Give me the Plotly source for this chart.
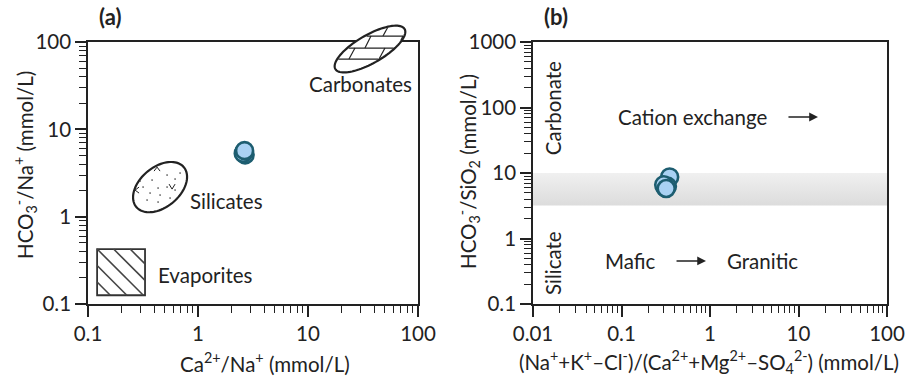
import numpy as np
import plotly.graph_objects as go

# ---- data -------------------------------------------------------------
# (a) Gibbs-type ratio plot
ca_na = [2.62, 2.68, 2.58, 2.65]
hco3_na = [5.5, 5.1, 5.3, 5.7]

# (b) cation-exchange / weathering plot
exch_ratio = [0.35, 0.31, 0.33, 0.30, 0.32]
hco3_sio2 = [8.7, 6.0, 6.3, 6.6, 5.8]

# transition band between silicate and carbonate weathering
band_lo, band_hi = 3.2, 10.0

a_ticks = [0.1, 1, 10, 100]
a_ticktext = ["0.1", "1", "10", "100"]
b_xticks = [0.01, 0.1, 1, 10, 100]
b_xticktext = ["0.01", "0.1", "1", "10", "100"]
b_yticks = [0.1, 1, 10, 100, 1000]
b_yticktext = ["0.1", "1", "10", "100", "1000"]

# end-member fields of panel (a) (centres in data units)
carb_center = (36.6, 83.0)
sil_center = (0.452, 2.18)
evap_box = (0.121, 0.33, 0.126, 0.426)

# ---- layout geometry ----------------------------------------------------
W, H = 916, 378
ML, MR, MT, MB = 88, 29, 42, 74
PW, PH = W - ML - MR, H - MT - MB
A_DOM = [0.0, 330 / PW]
B_DOM = [445 / PW, 1.0]
A_XR, A_YR = [-1, 2], [-1, 2]
B_XR, B_YR = [-2, 2], [-1, 3]

INK = "#222222"
FONT = "Lato, 'Open Sans', sans-serif"
FSIZE = 20.5
FILL = "#a9d1f3"
EDGE = "#1d5d70"


def a_to_px(x, y):
    fx = (np.log10(x) - A_XR[0]) / (A_XR[1] - A_XR[0])
    fy = (np.log10(y) - A_YR[0]) / (A_YR[1] - A_YR[0])
    px = ML + (A_DOM[0] + fx * (A_DOM[1] - A_DOM[0])) * PW
    py = MT + (1 - fy) * PH
    return px, py


def px_to_paper(px, py):
    return (px - ML) / PW, 1 - (py - MT) / PH


def path_from_px(pts, close=True):
    s = ""
    for i, (px, py) in enumerate(pts):
        x, y = px_to_paper(px, py)
        s += ("M" if i == 0 else "L") + f"{x:.5f},{y:.5f} "
    return s + ("Z" if close else "")


def ellipse_pts(cx, cy, a, b, ang, n=90):
    th = np.radians(ang)
    t = np.linspace(0, 2 * np.pi, n, endpoint=False)
    u, v = a * np.cos(t), b * np.sin(t)
    dx = u * np.cos(th) - v * np.sin(th)
    dy = -(u * np.sin(th) + v * np.cos(th))
    return list(zip(cx + dx, cy + dy))


def inside(dx, dy, a, b, ang):
    th = np.radians(ang)
    u = dx * np.cos(th) - dy * np.sin(th)
    v = -dx * np.sin(th) - dy * np.cos(th)
    return (u / a) ** 2 + (v / b) ** 2 <= 1


shapes = []


def add_path(pts, close=True, fill=None, width=2.0, color=INK):
    shapes.append(dict(type="path", xref="paper", yref="paper", layer="above",
                       path=path_from_px(pts, close),
                       fillcolor=fill if fill else "rgba(0,0,0,0)",
                       line=dict(color=color, width=width)))


# carbonate field with brick texture
CA, CB, CANG = 40, 14, 30
ccx, ccy = a_to_px(*carb_center)
add_path(ellipse_pts(ccx, ccy, CA, CB, CANG), fill="white", width=2.2)
xs = np.linspace(-50, 50, 1001)
rows = [-13, -1, 10]
for dy in rows:
    m = inside(xs, dy, CA - 1, CB - 1, CANG)
    if m.any():
        add_path([(ccx + xs[m].min(), ccy + dy), (ccx + xs[m].max(), ccy + dy)],
                 close=False, width=1.2)
bricks = [(-24, -13, [16]), (-13, -1, [-2, 30]), (-1, 10, [-18, 12])]
for top, bot, offs in bricks:
    for o in offs:
        (x0, y0), (x1, y1) = (o + 3, top), (o - 3, bot)
        tt = np.linspace(0, 1, 200)
        sx = x0 + (x1 - x0) * tt
        sy = y0 + (y1 - y0) * tt
        mm = inside(sx, sy, CA - 1, CB - 1, CANG)
        if mm.sum() > 2:
            add_path([(ccx + sx[mm][0], ccy + sy[mm][0]),
                      (ccx + sx[mm][-1], ccy + sy[mm][-1])], close=False, width=1.2)

# silicate field with speckles
scx, scy = a_to_px(*sil_center)
add_path(ellipse_pts(scx, scy, 31, 20, 40), fill="white", width=2.2)
speckles = [(-8, -7), (7, -12), (15, -8), (-17, 0), (-2, 1), (7, 0), (15, 3),
            (-10, 6), (0, 8), (-13, 13), (-2, 15), (10, 11), (-20, -6), (20, -14)]
for dx, dy in speckles:
    x0, y0 = px_to_paper(scx + dx - 0.8, scy + dy + 0.8)
    x1, y1 = px_to_paper(scx + dx + 0.8, scy + dy - 0.8)
    shapes.append(dict(type="circle", xref="paper", yref="paper", layer="above",
                       x0=x0, y0=y0, x1=x1, y1=y1, fillcolor="#333",
                       line=dict(width=0)))
ticks_v = [[(9, -3), (12, 2), (15, -3)], [(-6, -16), (-3, -20), (0, -16)],
           [(-21, 0), (-25, 3), (-21, 6)]]
for tk in ticks_v:
    add_path([(scx + dx, scy + dy) for dx, dy in tk], close=False, width=1.0)

# evaporite field with diagonal hatching
ex0, ey0 = a_to_px(evap_box[0], evap_box[3])
ex1, ey1 = a_to_px(evap_box[1], evap_box[2])
add_path([(ex0, ey0), (ex1, ey0), (ex1, ey1), (ex0, ey1)], fill="white", width=1.8,
         color="#333")
bw, bh = ex1 - ex0, ey1 - ey0
for c in [-33, -16.5, 0, 16.5, 33]:
    tt = np.linspace(-60, 60, 2401)
    hx, hy = c + tt, tt
    mm = (hx >= 0) & (hx <= bw) & (hy >= 0) & (hy <= bh)
    if mm.sum() > 2:
        add_path([(ex0 + hx[mm][0], ey0 + hy[mm][0]),
                  (ex0 + hx[mm][-1], ey0 + hy[mm][-1])], close=False, width=1.6,
                 color="#444")

# ---- traces --------------------------------------------------------------
fig = go.Figure()

fig.add_trace(go.Scatter(
    x=[b_xticks[0], b_xticks[-1], b_xticks[-1], b_xticks[0], b_xticks[0]],
    y=[band_lo, band_lo, band_hi, band_hi, band_lo],
    xaxis="x2", yaxis="y2", mode="lines", line=dict(width=0),
    fill="toself",
    fillgradient=dict(type="vertical",
                      colorscale=[[0, "#dcdcdc"], [1, "#f0f0f0"]]),
    hoverinfo="skip", showlegend=False))

marker = dict(size=17, color=FILL, line=dict(color=EDGE, width=2.6))
fig.add_trace(go.Scatter(x=ca_na, y=hco3_na, mode="markers", marker=marker,
                         xaxis="x", yaxis="y", showlegend=False))
fig.add_trace(go.Scatter(x=exch_ratio, y=hco3_sio2, mode="markers", marker=marker,
                         xaxis="x2", yaxis="y2", showlegend=False))


def axis(dom, rng, tv, tt, anchor):
    return dict(type="log", domain=dom, range=rng, anchor=anchor,
                tickmode="array", tickvals=tv, ticktext=tt,
                ticks="outside", ticklen=11, tickwidth=1.5, tickcolor=INK,
                showline=True, linecolor=INK, linewidth=1.6, mirror=True,
                showgrid=False, zeroline=False,
                tickfont=dict(family=FONT, size=FSIZE, color=INK),
                minor=dict(ticks="outside", ticklen=7, tickwidth=1.3,
                           tickcolor=INK, tickmode="linear", tick0=0, dtick="D1",
                           showgrid=False))


txt = dict(family=FONT, size=FSIZE, color=INK)
ann = []


def label(text, x, y, xref, yref, **kw):
    d = dict(text=text, x=x, y=y, xref=xref, yref=yref, showarrow=False,
             xanchor="center", yanchor="middle", font=kw.pop("font", txt))
    d.update(kw)
    ann.append(d)


# panel tags
tag_font = dict(family=FONT, size=22, color=INK)
label("<b>(a)</b>", *px_to_paper(110, 17), "paper", "paper", font=tag_font)
label("<b>(b)</b>", *px_to_paper(556, 17), "paper", "paper", font=tag_font)

# axis titles
label("Ca<sup>2+</sup>/Na<sup>+</sup> (mmol/L)", *px_to_paper(265, 362), "paper", "paper")
label("HCO<sub>3</sub><sup>-</sup>/Na<sup>+</sup> (mmol/L)", *px_to_paper(25, 165),
      "paper", "paper", textangle=-90)
label("(Na<sup>+</sup>+K<sup>+</sup>\u2013Cl<sup>-</sup>)/(Ca<sup>2+</sup>+Mg<sup>2+</sup>"
      "\u2013SO<sub>4</sub><sup>2-</sup>) (mmol/L)", *px_to_paper(709, 362), "paper", "paper")
label("HCO<sub>3</sub><sup>-</sup>/SiO<sub>2</sub> (mmol/L)", *px_to_paper(468, 172),
      "paper", "paper", textangle=-90)

# field names in panel (a) (log10 positions on log axes)
label("Carbonates", 1.473, 1.519, "x", "y")
label("Silicates", 0.2545, 0.179, "x", "y")
label("Evaporites", 0.0636, -0.669, "x", "y")

# panel (b) annotations
label("Carbonate", -1.774, 1.99, "x2", "y2", textangle=-90)
label("Silicate", -1.774, -0.374, "x2", "y2", textangle=-90)
label("Cation exchange", -0.203, 1.855, "x2", "y2")
label("Mafic", -0.904, -0.343, "x2", "y2")
label("Granitic", 0.588, -0.343, "x2", "y2")
for tip, yy in ((1.22, 1.855), (-0.045, -0.343)):
    ann.append(dict(x=tip, y=yy, xref="x2", yref="y2", ax=-31, ay=0, text="",
                    showarrow=True, arrowhead=2, arrowsize=1.1, arrowwidth=1.6,
                    arrowcolor=INK))

fig.update_layout(
    width=W, height=H, margin=dict(l=ML, r=MR, t=MT, b=MB),
    paper_bgcolor="white", plot_bgcolor="white",
    xaxis=axis(A_DOM, A_XR, a_ticks, a_ticktext, "y"),
    yaxis=axis([0, 1], A_YR, a_ticks, a_ticktext, "x"),
    xaxis2=axis(B_DOM, B_XR, b_xticks, b_xticktext, "y2"),
    yaxis2=axis([0, 1], B_YR, b_yticks, b_yticktext, "x2"),
    shapes=shapes, annotations=ann, showlegend=False,
    font=dict(family=FONT, color=INK),
)

fig.write_html("out.html")
